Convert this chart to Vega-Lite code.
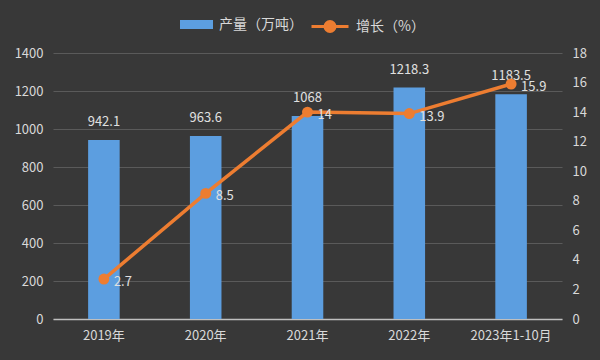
{
  "$schema": "https://vega.github.io/schema/vega-lite/v6.json",
  "width": 509,
  "height": 266,
  "autosize": "none",
  "padding": {"left": 53, "top": 53, "right": 38, "bottom": 41},
  "background": "#383838",
  "config": {
    "view": {"stroke": null},
    "font": "Noto Sans CJK SC",
    "axis": {"labelColor": "#d9d9d9", "labelFontSize": 13, "labelFont": "Noto Sans CJK SC", "domain": false, "ticks": false, "title": null, "labelOverlap": false}
  },
  "data": {
    "values": [
      {"cat": "2019年", "prod": 942.1, "growth": 2.7},
      {"cat": "2020年", "prod": 963.6, "growth": 8.5},
      {"cat": "2021年", "prod": 1068, "growth": 14},
      {"cat": "2022年", "prod": 1218.3, "growth": 13.9},
      {"cat": "2023年1-10月", "prod": 1183.5, "growth": 15.9}
    ]
  },
  "encoding": {
    "x": {"field": "cat", "type": "nominal", "sort": null,
      "scale": {"paddingInner": 0.69, "paddingOuter": 0.345},
      "axis": {"labelAngle": 0, "labelPadding": 10, "grid": false, "domain": true, "domainColor": "#bfbfbf", "domainWidth": 1.5}}
  },
  "layer": [
    {
      "encoding": {
        "y": {"field": "prod", "type": "quantitative",
          "scale": {"domain": [0, 1400], "nice": false},
          "axis": {"tickCount": 7, "labelOverlap": false, "format": "d", "grid": true, "gridColor": "#5a5a5a", "labelPadding": 10}}
      },
      "layer": [
        {
          "mark": {"type": "bar"},
          "encoding": {
            "fill": {"datum": "产量（万吨）", "type": "nominal",
              "scale": {"range": ["#5c9ee0"]},
              "legend": {
                "orient": "none", "legendX": 127, "legendY": -45, "direction": "horizontal",
                "title": null, "labelColor": "#d9d9d9", "labelFontSize": 14, "labelFont": "Noto Sans CJK SC",
                "labelOffset": 6, "symbolSize": 1089, "symbolStrokeWidth": 0,
                "symbolType": "M-1,-0.27H1V0.27H-1Z"
              }}
          }
        },
        {
          "mark": {"type": "text", "dy": -18, "color": "#e0e0e0", "fontSize": 13, "font": "Noto Sans CJK SC"},
          "encoding": {
            "text": {"field": "prod", "type": "quantitative"}
          }
        }
      ]
    },
    {
      "encoding": {
        "y": {"field": "growth", "type": "quantitative",
          "scale": {"domain": [0, 18], "nice": false},
          "axis": {"orient": "right", "tickCount": 9, "labelOverlap": false, "grid": false, "labelPadding": 10}}
      },
      "layer": [
        {
          "mark": {"type": "line", "strokeWidth": 3.5},
          "encoding": {
            "stroke": {"datum": "增长（%）", "type": "nominal",
              "scale": {"range": ["#ed7d31"]},
              "legend": {
                "orient": "none", "legendX": 257, "legendY": -46.5, "direction": "horizontal",
                "title": null, "labelColor": "#d9d9d9", "labelFontSize": 14, "labelFont": "Noto Sans CJK SC",
                "labelOffset": 6, "symbolSize": 1369, "symbolStrokeWidth": 3,
                "symbolType": "M-1,0H-0.27M0.27,0H1M0.27,0A0.27,0.27 0 1 1 -0.27,0A0.27,0.27 0 1 1 0.27,0Z",
                "symbolFillColor": "#ed7d31",
                "encode": {"symbols": {"update": {"fill": {"value": "#ed7d31"}, "opacity": {"value": 1}}}}
              }}
          }
        },
        {
          "mark": {"type": "point", "filled": true, "size": 120, "opacity": 1, "color": "#ed7d31"}
        },
        {
          "mark": {"type": "text", "align": "left", "dx": 10, "dy": 3, "color": "#e0e0e0", "fontSize": 13, "font": "Noto Sans CJK SC"},
          "encoding": {
            "text": {"field": "growth", "type": "quantitative"}
          }
        }
      ]
    }
  ],
  "resolve": {"scale": {"y": "independent"}}
}
